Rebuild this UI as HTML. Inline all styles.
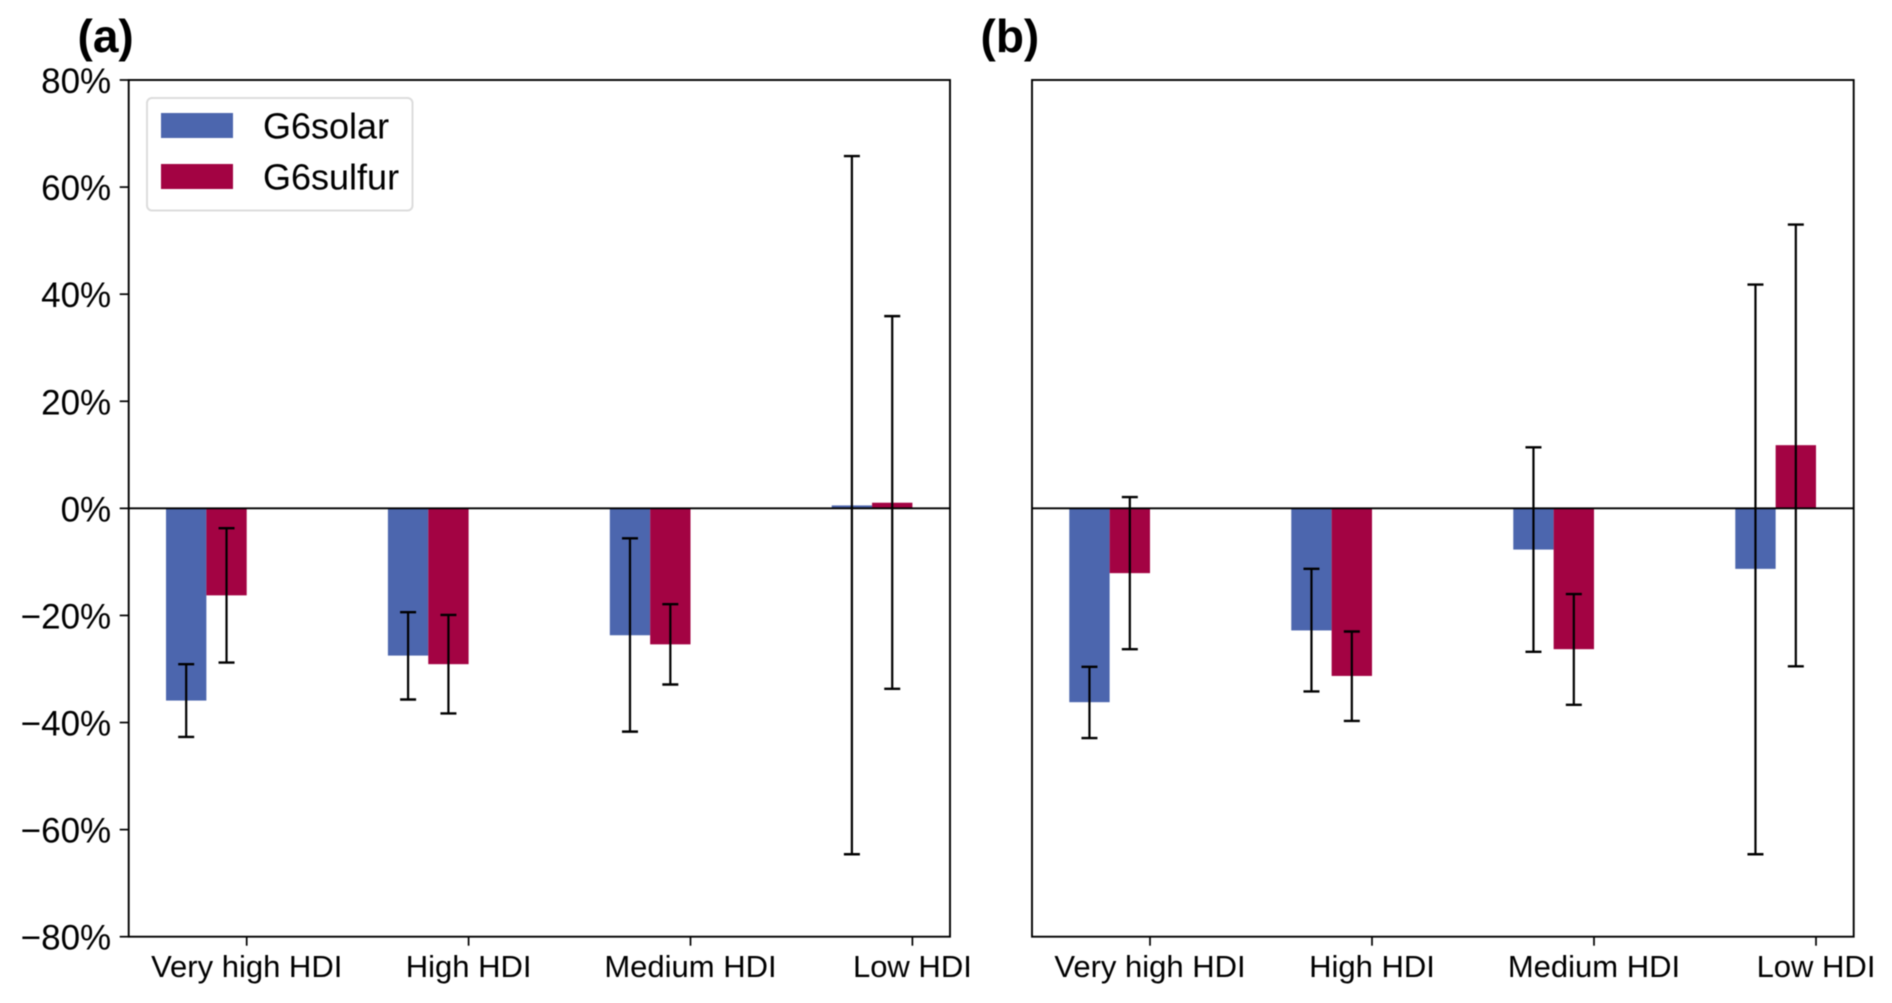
<!DOCTYPE html>
<html lang="en">
<head>
<meta charset="utf-8">
<title>G6solar and G6sulfur by HDI group</title>
<style>
html,body{margin:0;padding:0;background:#fff;width:1892px;height:1003px;overflow:hidden}
svg{display:block;filter:blur(0.45px)}
text{font-family:"Liberation Sans",Arial,sans-serif;fill:#000}
</style>
</head>
<body>
<svg id="chart" xmlns="http://www.w3.org/2000/svg" width="1892" height="1003" viewBox="0 0 1892 1003"></svg>
<script>
const categories = ['Very high HDI', 'High HDI', 'Medium HDI', 'Low HDI'];
const yTicks = [80, 60, 40, 20, 0, -20, -40, -60, -80];
const seriesNames = ['G6solar', 'G6sulfur'];

const aSolar = [-35.9, -27.5, -23.7, 0.55];
const aSolarLow = [-42.7, -35.7, -41.7, -64.6];
const aSolarHigh = [-29.1, -19.4, -5.6, 65.8];
const aSulfur = [-16.25, -29.1, -25.4, 1.05];
const aSulfurLow = [-28.8, -38.3, -32.9, -33.7];
const aSulfurHigh = [-3.7, -19.9, -17.9, 35.9];

const bSolar = [-36.2, -22.8, -7.7, -11.3];
const bSolarLow = [-42.9, -34.2, -26.8, -64.6];
const bSolarHigh = [-29.6, -11.3, 11.4, 41.8];
const bSulfur = [-12.1, -31.3, -26.3, 11.8];
const bSulfurLow = [-26.3, -39.7, -36.7, -29.5];
const bSulfurHigh = [2.1, -23, -16, 53];

const NS = 'http://www.w3.org/2000/svg';
const svg = document.getElementById('chart');
const COLORS = ['#4c66ae', '#a30343'];
const TOP = 80, BOTTOM = 936.7;

function yScale(v) {
  return TOP + (80 - v) / 160 * (BOTTOM - TOP);
}

function add(parent, tag, attrs, text) {
  const el = document.createElementNS(NS, tag);
  for (const k in attrs) el.setAttribute(k, attrs[k]);
  if (text !== undefined) el.textContent = text;
  parent.appendChild(el);
  return el;
}

function drawPanel(id, left, right, firstTick, step, solar, solarLow, solarHigh, sulfur, sulfurLow, sulfurHigh, showY) {
  const g = add(svg, 'g', {});
  
  
  const xScale = i => firstTick + i * step;
  const barW = step * 0.1818;
  const series = [[solar, solarLow, solarHigh], [sulfur, sulfurLow, sulfurHigh]];
  const y0 = yScale(0);

  // bars
  series.forEach((s, si) => {
    s[0].forEach((v, i) => {
      const bar = add(g, 'rect', {
        x: xScale(i) - (2 - si) * barW,
        y: Math.min(yScale(v), y0),
        width: barW,
        height: Math.abs(yScale(v) - y0),
        fill: COLORS[si]
      });
      
      
    });
  });

  // zero line
  const zero = add(g, 'line', {x1: left, x2: right, y1: y0, y2: y0, stroke: '#000', 'stroke-width': 1.9});
  
  

  // error bars
  series.forEach((s, si) => {
    s[0].forEach((v, i) => {
      const cx = xScale(i) - (2 - si) * barW + barW / 2;
      const eb = add(g, 'g', {stroke: '#000'});
      
      
      add(eb, 'line', {x1: cx, x2: cx, y1: yScale(s[2][i]), y2: yScale(s[1][i]), 'stroke-width': 2.2});
      add(eb, 'line', {x1: cx - 8, x2: cx + 8, y1: yScale(s[2][i]), y2: yScale(s[2][i]), 'stroke-width': 2.4});
      add(eb, 'line', {x1: cx - 8, x2: cx + 8, y1: yScale(s[1][i]), y2: yScale(s[1][i]), 'stroke-width': 2.4});
    });
  });

  // frame
  const frame = add(g, 'rect', {x: left, y: TOP, width: right - left, height: BOTTOM - TOP, fill: 'none', stroke: '#000', 'stroke-width': 1.9});
  
  

  // x ticks
  categories.forEach((c, i) => {
    const tick = add(g, 'line', {x1: xScale(i), x2: xScale(i), y1: BOTTOM, y2: BOTTOM + 9, stroke: '#000', 'stroke-width': 1.7});
    
    
    const label = add(g, 'text', {x: xScale(i), y: 977, 'font-size': 31, 'text-anchor': 'middle'}, c);
    
    
  });

  // y ticks
  if (showY) {
    yTicks.forEach(t => {
      const tick = add(g, 'line', {x1: left - 9, x2: left, y1: yScale(t), y2: yScale(t), stroke: '#000', 'stroke-width': 1.7});
      
      
      const txt = (t < 0 ? '\u2212' + (-t) : t) + '%';
      const label = add(g, 'text', {x: left - 17.5, y: yScale(t) + 13, 'font-size': 35, 'text-anchor': 'end'}, txt);
      
      
    });
  }
}

drawPanel('a', 128.7, 950, 246.7, 221.9, aSolar, aSolarLow, aSolarHigh, aSulfur, aSulfurLow, aSulfurHigh, true);
drawPanel('b', 1032, 1853.7, 1150, 222, bSolar, bSolarLow, bSolarHigh, bSulfur, bSulfurLow, bSulfurHigh, false);

// panel titles
const titleA = add(svg, 'text', {x: 77.5, y: 52, 'font-size': 46, 'font-weight': 'bold'}, '(a)');


const titleB = add(svg, 'text', {x: 980.5, y: 52, 'font-size': 46, 'font-weight': 'bold'}, '(b)');



// legend
const legend = add(svg, 'g', {});


const legendBox = add(legend, 'rect', {x: 147, y: 98, width: 265.5, height: 112.5, rx: 5, fill: '#fff', stroke: '#dcdcdc', 'stroke-width': 2});


seriesNames.forEach((name, i) => {
  const y = 113 + i * 51;
  const entry = add(legend, 'g', {});
  
  
  add(entry, 'rect', {x: 161, y: y, width: 72, height: 25, fill: COLORS[i]});
  add(entry, 'text', {x: 263, y: y + 25.3, 'font-size': 36}, name);
});
</script>
</body>
</html>
